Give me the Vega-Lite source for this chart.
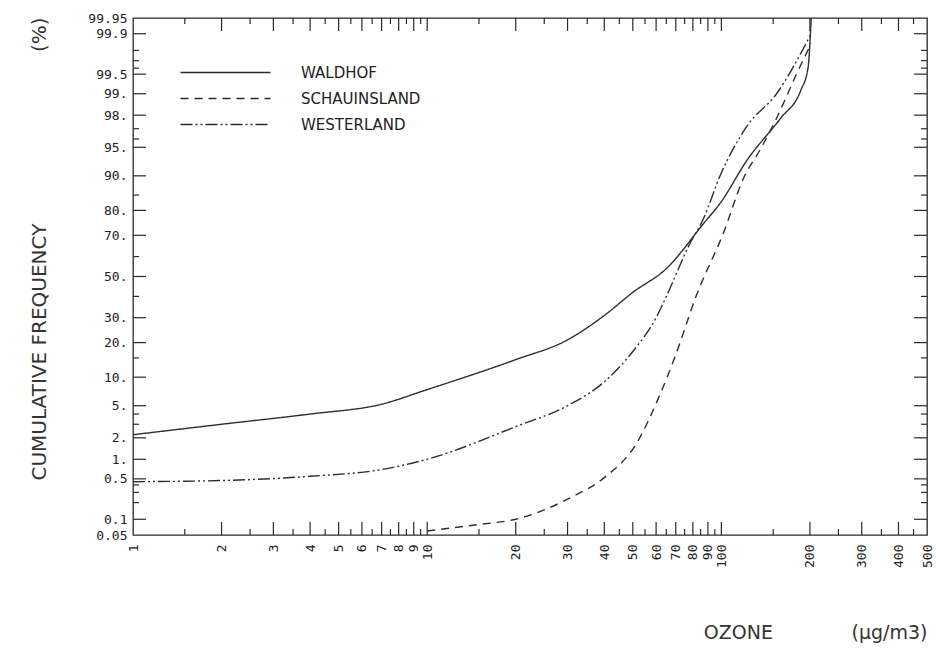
{
  "$schema": "https://vega.github.io/schema/vega-lite/v6.json",
  "width": 794,
  "height": 517,
  "autosize": {"type": "none"},
  "padding": {"left": 133, "top": 18, "right": 9, "bottom": 118},
  "background": "white",
  "data": {
    "values": [
      {"station": "WALDHOF", "ozone": 1, "cf": 2.2},
      {"station": "WALDHOF", "ozone": 2, "cf": 3.0},
      {"station": "WALDHOF", "ozone": 4, "cf": 4.0},
      {"station": "WALDHOF", "ozone": 7, "cf": 5.2},
      {"station": "WALDHOF", "ozone": 10, "cf": 7.5},
      {"station": "WALDHOF", "ozone": 20, "cf": 14.5},
      {"station": "WALDHOF", "ozone": 30, "cf": 21},
      {"station": "WALDHOF", "ozone": 40, "cf": 31},
      {"station": "WALDHOF", "ozone": 50, "cf": 42},
      {"station": "WALDHOF", "ozone": 65, "cf": 54},
      {"station": "WALDHOF", "ozone": 87, "cf": 75},
      {"station": "WALDHOF", "ozone": 100, "cf": 83},
      {"station": "WALDHOF", "ozone": 122, "cf": 93},
      {"station": "WALDHOF", "ozone": 159, "cf": 97.8},
      {"station": "WALDHOF", "ozone": 186, "cf": 99.1},
      {"station": "WALDHOF", "ozone": 197, "cf": 99.6},
      {"station": "WALDHOF", "ozone": 202, "cf": 99.95},
      {"station": "SCHAUINSLAND", "ozone": 10, "cf": 0.06},
      {"station": "SCHAUINSLAND", "ozone": 15, "cf": 0.08},
      {"station": "SCHAUINSLAND", "ozone": 20, "cf": 0.1},
      {"station": "SCHAUINSLAND", "ozone": 31, "cf": 0.25},
      {"station": "SCHAUINSLAND", "ozone": 39.5, "cf": 0.5},
      {"station": "SCHAUINSLAND", "ozone": 52, "cf": 1.8},
      {"station": "SCHAUINSLAND", "ozone": 61, "cf": 6},
      {"station": "SCHAUINSLAND", "ozone": 70, "cf": 16},
      {"station": "SCHAUINSLAND", "ozone": 82, "cf": 40},
      {"station": "SCHAUINSLAND", "ozone": 101.6, "cf": 71},
      {"station": "SCHAUINSLAND", "ozone": 119, "cf": 89.5},
      {"station": "SCHAUINSLAND", "ozone": 136, "cf": 94.8},
      {"station": "SCHAUINSLAND", "ozone": 154, "cf": 97.8},
      {"station": "SCHAUINSLAND", "ozone": 180, "cf": 99.5},
      {"station": "SCHAUINSLAND", "ozone": 202, "cf": 99.85},
      {"station": "WESTERLAND", "ozone": 1, "cf": 0.45},
      {"station": "WESTERLAND", "ozone": 2, "cf": 0.47},
      {"station": "WESTERLAND", "ozone": 4, "cf": 0.55},
      {"station": "WESTERLAND", "ozone": 7, "cf": 0.7},
      {"station": "WESTERLAND", "ozone": 10, "cf": 1.0},
      {"station": "WESTERLAND", "ozone": 20, "cf": 2.8},
      {"station": "WESTERLAND", "ozone": 30, "cf": 5},
      {"station": "WESTERLAND", "ozone": 40, "cf": 9},
      {"station": "WESTERLAND", "ozone": 50, "cf": 17},
      {"station": "WESTERLAND", "ozone": 60, "cf": 30},
      {"station": "WESTERLAND", "ozone": 65, "cf": 40},
      {"station": "WESTERLAND", "ozone": 78, "cf": 66},
      {"station": "WESTERLAND", "ozone": 87, "cf": 77},
      {"station": "WESTERLAND", "ozone": 99, "cf": 90},
      {"station": "WESTERLAND", "ozone": 122, "cf": 97.2},
      {"station": "WESTERLAND", "ozone": 154, "cf": 99.0},
      {"station": "WESTERLAND", "ozone": 202, "cf": 99.9}
    ]
  },
  "datasets": {
    "xticks": [
      {"v": 1.5, "k": "minor"}, {"v": 2, "k": "major"}, {"v": 2.5, "k": "minor"}, {"v": 3, "k": "major"},
      {"v": 3.5, "k": "minor"}, {"v": 4, "k": "major"}, {"v": 4.5, "k": "minor"}, {"v": 5, "k": "major"},
      {"v": 5.5, "k": "minor"}, {"v": 6, "k": "major"}, {"v": 6.5, "k": "minor"}, {"v": 7, "k": "major"},
      {"v": 7.5, "k": "minor"}, {"v": 8, "k": "major"}, {"v": 8.5, "k": "minor"}, {"v": 9, "k": "major"},
      {"v": 9.5, "k": "minor"}, {"v": 10, "k": "major"}, {"v": 15, "k": "minor"}, {"v": 20, "k": "major"},
      {"v": 25, "k": "minor"}, {"v": 30, "k": "major"}, {"v": 35, "k": "minor"}, {"v": 40, "k": "major"},
      {"v": 45, "k": "minor"}, {"v": 50, "k": "major"}, {"v": 55, "k": "minor"}, {"v": 60, "k": "major"},
      {"v": 65, "k": "minor"}, {"v": 70, "k": "major"}, {"v": 75, "k": "minor"}, {"v": 80, "k": "major"},
      {"v": 85, "k": "minor"}, {"v": 90, "k": "major"}, {"v": 95, "k": "minor"}, {"v": 100, "k": "major"},
      {"v": 150, "k": "minor"}, {"v": 200, "k": "major"}, {"v": 250, "k": "minor"}, {"v": 300, "k": "major"},
      {"v": 350, "k": "minor"}, {"v": 400, "k": "major"}, {"v": 450, "k": "minor"}
    ],
    "yticks": [
      {"p": 99.9, "k": "major"}, {"p": 99.8, "k": "minor"}, {"p": 99.7, "k": "minor"}, {"p": 99.6, "k": "minor"},
      {"p": 99.5, "k": "major"}, {"p": 99, "k": "major"}, {"p": 98, "k": "major"}, {"p": 97, "k": "minor"},
      {"p": 96, "k": "minor"}, {"p": 95, "k": "major"}, {"p": 90, "k": "major"}, {"p": 85, "k": "minor"},
      {"p": 80, "k": "major"}, {"p": 70, "k": "major"}, {"p": 60, "k": "minor"}, {"p": 50, "k": "major"},
      {"p": 40, "k": "minor"}, {"p": 30, "k": "major"}, {"p": 20, "k": "major"}, {"p": 15, "k": "minor"},
      {"p": 10, "k": "major"}, {"p": 5, "k": "major"}, {"p": 4, "k": "minor"}, {"p": 3, "k": "minor"},
      {"p": 2, "k": "major"}, {"p": 1, "k": "major"}, {"p": 0.5, "k": "major"}, {"p": 0.4, "k": "minor"},
      {"p": 0.3, "k": "minor"}, {"p": 0.2, "k": "minor"}, {"p": 0.1, "k": "major"}
    ]
  },
  "config": {
    "view": {"stroke": "#2a2a2a", "strokeWidth": 1.3},
    "legend": {
      "orient": "none",
      "legendX": 84,
      "legendY": 46,
      "symbolType": "M-6,0H6",
      "symbolSize": 225,
      "symbolStrokeWidth": 1.3,
      "symbolStrokeColor": "#2a2a2a",
      "labelFont": "DejaVu Sans",
      "labelFontSize": 15,
      "labelColor": "#222222",
      "labelOffset": 67,
      "rowPadding": 9
    }
  },
  "layer": [
    {
      "transform": [{"calculate": "quantileNormal(datum.cf / 100)", "as": "z"}],
      "mark": {"type": "line", "interpolate": "monotone", "color": "#2e2e2e", "strokeWidth": 1.4},
      "encoding": {
        "x": {
          "field": "ozone", "type": "quantitative",
          "scale": {"type": "log", "domain": [1, 500], "nice": false},
          "axis": {
            "orient": "bottom",
            "values": [1, 2, 3, 4, 5, 6, 7, 8, 9, 10, 20, 30, 40, 50, 60, 70, 80, 90, 100, 200, 300, 400, 500],
            "labelExpr": "datum.value + ''",
            "labelAngle": 270,
            "labelAlign": "right",
            "labelBaseline": "middle",
            "labelFont": "DejaVu Sans Mono",
            "labelFontSize": 13,
            "labelColor": "#222222",
            "labelOverlap": false,
            "labelFlush": false,
            "labelPadding": 9,
            "domain": false,
            "ticks": false,
            "grid": false,
            "title": "OZONE\u00a0\u00a0\u00a0\u00a0\u00a0\u00a0\u00a0\u00a0\u00a0\u00a0\u00a0\u00a0\u00a0(µg/m3)",
            "titleFont": "DejaVu Sans",
            "titleFontWeight": "normal",
            "titleColor": "#333333",
            "titleFontSize": 19,
            "titleX": 794,
            "titleY": 97,
            "titleAngle": 0,
            "titleAlign": "right",
            "titleBaseline": "middle"
          }
        },
        "y": {
          "field": "z", "type": "quantitative",
          "scale": {"domain": [-3.2905, 3.2905], "nice": false, "zero": false},
          "axis": {
            "orient": "left",
            "values": [3.2905, 3.0902, 2.5758, 2.3263, 2.0537, 1.6449, 1.2816, 0.8416, 0.5244, 0, -0.5244, -0.8416, -1.2816, -1.6449, -2.0537, -2.3263, -2.5758, -3.0902, -3.2905],
            "labelExpr": "(round(cumulativeNormal(datum.value) * 10000) / 100) >= 1 && (round(cumulativeNormal(datum.value) * 10000) / 100) == round(round(cumulativeNormal(datum.value) * 10000) / 100) ? (round(cumulativeNormal(datum.value) * 10000) / 100) + '.' : (round(cumulativeNormal(datum.value) * 10000) / 100) + ''",
            "labelFont": "DejaVu Sans Mono",
            "labelFontSize": 13,
            "labelColor": "#222222",
            "labelOverlap": false,
            "labelFlush": false,
            "labelPadding": 6,
            "domain": false,
            "ticks": false,
            "grid": false,
            "title": "CUMULATIVE FREQUENCY\u00a0\u00a0\u00a0\u00a0\u00a0\u00a0\u00a0\u00a0\u00a0\u00a0\u00a0\u00a0\u00a0\u00a0\u00a0\u00a0\u00a0\u00a0\u00a0\u00a0\u00a0\u00a0\u00a0\u00a0\u00a0\u00a0\u00a0(%)",
            "titleFont": "DejaVu Sans",
            "titleFontWeight": "normal",
            "titleColor": "#333333",
            "titleFontSize": 20,
            "titleX": -94,
            "titleY": 462,
            "titleAngle": 270,
            "titleAlign": "left",
            "titleBaseline": "middle"
          }
        },
        "strokeDash": {
          "field": "station", "type": "nominal",
          "scale": {"domain": ["WALDHOF", "SCHAUINSLAND", "WESTERLAND"], "range": [[1, 0], [8, 6], [12, 3, 2, 3, 2, 3]]},
          "legend": {"title": null}
        }
      }
    },
    {
      "data": {"name": "xticks"},
      "mark": {"type": "tick", "orient": "vertical", "clip": true, "color": "#2a2a2a", "opacity": 1, "thickness": 1.2},
      "encoding": {
        "x": {"field": "v", "type": "quantitative", "scale": {"type": "log", "domain": [1, 500], "nice": false}, "axis": null},
        "y": {"datum": -3.2905, "type": "quantitative", "scale": {"domain": [-3.2905, 3.2905], "nice": false, "zero": false}, "axis": null},
        "size": {"field": "k", "type": "ordinal", "scale": {"domain": ["major", "minor"], "range": [26, 12]}, "legend": null}
      }
    },
    {
      "data": {"name": "xticks"},
      "mark": {"type": "tick", "orient": "vertical", "clip": true, "color": "#2a2a2a", "opacity": 1, "thickness": 1.2},
      "encoding": {
        "x": {"field": "v", "type": "quantitative", "scale": {"type": "log", "domain": [1, 500], "nice": false}, "axis": null},
        "y": {"datum": 3.2905, "type": "quantitative", "scale": {"domain": [-3.2905, 3.2905], "nice": false, "zero": false}, "axis": null},
        "size": {"field": "k", "type": "ordinal", "scale": {"domain": ["major", "minor"], "range": [26, 12]}, "legend": null}
      }
    },
    {
      "data": {"name": "yticks"},
      "transform": [{"calculate": "quantileNormal(datum.p / 100)", "as": "z"}],
      "mark": {"type": "tick", "orient": "horizontal", "clip": true, "color": "#2a2a2a", "opacity": 1, "thickness": 1.2},
      "encoding": {
        "x": {"datum": 1, "type": "quantitative", "scale": {"type": "log", "domain": [1, 500], "nice": false}, "axis": null},
        "y": {"field": "z", "type": "quantitative", "scale": {"domain": [-3.2905, 3.2905], "nice": false, "zero": false}, "axis": null},
        "size": {"field": "k", "type": "ordinal", "scale": {"domain": ["major", "minor"], "range": [26, 12]}, "legend": null}
      }
    },
    {
      "data": {"name": "yticks"},
      "transform": [{"calculate": "quantileNormal(datum.p / 100)", "as": "z"}],
      "mark": {"type": "tick", "orient": "horizontal", "clip": true, "color": "#2a2a2a", "opacity": 1, "thickness": 1.2},
      "encoding": {
        "x": {"datum": 500, "type": "quantitative", "scale": {"type": "log", "domain": [1, 500], "nice": false}, "axis": null},
        "y": {"field": "z", "type": "quantitative", "scale": {"domain": [-3.2905, 3.2905], "nice": false, "zero": false}, "axis": null},
        "size": {"field": "k", "type": "ordinal", "scale": {"domain": ["major", "minor"], "range": [26, 12]}, "legend": null}
      }
    }
  ],
  "resolve": {"axis": {"x": "independent", "y": "independent"}}
}
